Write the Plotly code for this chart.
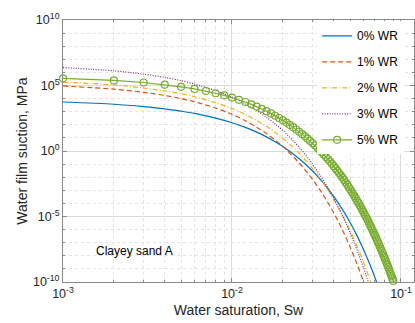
import plotly.graph_objects as go

# ---------------- data ----------------
# Water saturation grid used for the smooth curves
sw_line = [0.001, 0.002, 0.003, 0.004, 0.005, 0.006, 0.008, 0.010, 0.012, 0.014,
           0.016, 0.018, 0.020, 0.025, 0.030, 0.035, 0.040, 0.045, 0.050, 0.055,
           0.060, 0.065, 0.070, 0.075]

# log10 of water film suction (MPa)
log_wr0 = [3.74, 3.57, 3.39, 3.22, 3.04, 2.87, 2.51, 2.16, 1.80, 1.44,
           1.08, 0.71, 0.34, -0.59, -1.53, -2.49, -3.47, -4.46, -5.46, -6.48,
           -7.52, -8.57, -9.63, -10.72]
log_wr1 = [4.96, 4.72, 4.48, 4.24, 4.00, 3.76, 3.28, 2.80, 2.31, 1.82,
           1.33, 0.84, 0.34, -0.91, -2.17, -3.44, -4.72, -6.02, -7.33, -8.65,
           -9.98, -11.33, -12.69, -14.06]
log_wr2 = [5.26, 5.04, 4.81, 4.59, 4.37, 4.14, 3.69, 3.24, 2.79, 2.34,
           1.88, 1.43, 0.97, -0.18, -1.34, -2.51, -3.69, -4.87, -6.07, -7.27,
           -8.49, -9.71, -10.94, -12.18]
log_wr3 = [6.37, 6.12, 5.87, 5.62, 5.37, 5.11, 4.61, 4.11, 3.60, 3.09,
           2.58, 2.07, 1.56, 0.28, -1.02, -2.31, -3.62, -4.93, -6.26, -7.58,
           -8.92, -10.26, -11.62, -12.97]

# 5% WR series is drawn with a marker at every 0.001 of saturation
sw_markers = [0.001, 0.002, 0.003, 0.004, 0.005, 0.006, 0.007, 0.008, 0.009, 0.010,
              0.011, 0.012, 0.013, 0.014, 0.015, 0.016, 0.017, 0.018, 0.019, 0.020,
              0.021, 0.022, 0.023, 0.024, 0.025, 0.026, 0.027, 0.028, 0.029, 0.030,
              0.031, 0.032, 0.033, 0.034, 0.035, 0.036, 0.037, 0.038, 0.039, 0.040,
              0.041, 0.042, 0.043, 0.044, 0.045, 0.046, 0.047, 0.048, 0.049, 0.050,
              0.051, 0.052, 0.053, 0.054, 0.055, 0.056, 0.057, 0.058, 0.059, 0.060,
              0.061, 0.062, 0.063, 0.064, 0.065, 0.066, 0.067, 0.068, 0.069, 0.070,
              0.071, 0.072, 0.073, 0.074, 0.075, 0.076, 0.077, 0.078, 0.079, 0.080,
              0.081, 0.082, 0.083, 0.084, 0.085, 0.086, 0.087, 0.088, 0.089, 0.090]
log_wr5 = [5.55, 5.39, 5.23, 5.06, 4.90, 4.74, 4.58, 4.41, 4.25, 4.08,
           3.91, 3.74, 3.56, 3.39, 3.22, 3.04, 2.87, 2.69, 2.52, 2.34,
           2.17, 1.99, 1.82, 1.64, 1.47, 1.29, 1.12, 0.94, 0.77, 0.59,
           0.42, 0.24, 0.07, -0.11, -0.28, -0.46, -0.63, -0.81, -0.98, -1.16,
           -1.33, -1.51, -1.68, -1.86, -2.03, -2.21, -2.39, -2.56, -2.74, -2.92,
           -3.10, -3.27, -3.45, -3.62, -3.80, -3.97, -4.15, -4.32, -4.50, -4.67,
           -4.85, -5.02, -5.20, -5.37, -5.55, -5.72, -5.90, -6.07, -6.25, -6.42,
           -6.60, -6.77, -6.95, -7.12, -7.30, -7.47, -7.65, -7.82, -8.00, -8.17,
           -8.35, -8.52, -8.70, -8.87, -9.05, -9.22, -9.40, -9.57, -9.75, -9.92]

series_names = ["0% WR", "1% WR", "2% WR", "3% WR", "5% WR"]

x_tick_vals = [1e-3, 1e-2, 1e-1]
x_tick_text = ["10<sup>-3</sup>", "10<sup>-2</sup>", "10<sup>-1</sup>"]
y_tick_vals = [1e-10, 1e-5, 1e0, 1e5, 1e10]
y_tick_text = ["10<sup>-10</sup>", "10<sup>-5</sup>", "10<sup>0</sup>", "10<sup>5</sup>", "10<sup>10</sup>"]
x_minor_vals = [2e-3, 3e-3, 4e-3, 5e-3, 6e-3, 7e-3, 8e-3, 9e-3,
                2e-2, 3e-2, 4e-2, 5e-2, 6e-2, 7e-2, 8e-2, 9e-2]
y_minor_vals = [1e-9, 1e-8, 1e-7, 1e-6, 1e-4, 1e-3, 1e-2, 1e-1,
                1e1, 1e2, 1e3, 1e4, 1e6, 1e7, 1e8, 1e9]


def to_mpa(logs):
    return [10 ** v for v in logs]


FONT = "Liberation Sans, Arial, Helvetica, sans-serif"
TXT = "#262626"

fig = go.Figure()

line_specs = [
    (log_wr0, "#0072BD", "solid"),
    (log_wr1, "#D95319", "5px,3px"),
    (log_wr2, "#EDB120", "5px,2px,1px,2px"),
    (log_wr3, "#7E2F8E", "1px,1.5px"),
]
for i, (vals, col, dash) in enumerate(line_specs):
    fig.add_trace(go.Scatter(
        x=sw_line, y=to_mpa(vals), mode="lines", name=series_names[i],
        legendgroup=series_names[i],
        line=dict(color=col, width=1.2, dash=dash, shape="spline", smoothing=0.8),
    ))

fig.add_trace(go.Scatter(
    x=sw_markers, y=to_mpa(log_wr5), mode="lines+markers", name=series_names[4],
    legendgroup=series_names[4], cliponaxis=False,
    line=dict(color="#77AC30", width=1.2),
    marker=dict(symbol="circle-open", size=7, color="#77AC30", line=dict(width=1.2)),
))

axis_common = dict(
    type="log", showline=True, linecolor="#8a8a8a", linewidth=1, mirror="ticks",
    ticks="inside", ticklen=4, tickcolor="#8a8a8a", tickwidth=1,
    showgrid=True, gridcolor="#dcdcdc", gridwidth=1, zeroline=False,
    tickfont=dict(family=FONT, size=12.5, color=TXT),
)

fig.update_xaxes(
    **axis_common, range=[-3, -0.923],
    tickmode="array", tickvals=x_tick_vals, ticktext=x_tick_text,
    minor=dict(tickmode="array", tickvals=x_minor_vals, ticks="inside", ticklen=2,
               tickcolor="#8a8a8a", showgrid=True, gridcolor="#e3e3e3", griddash="dot"),
    title=dict(text="Water saturation, Sw", font=dict(family=FONT, size=14, color=TXT), standoff=5),
)
fig.update_yaxes(
    **axis_common, range=[-10, 10],
    tickmode="array", tickvals=y_tick_vals, ticktext=y_tick_text,
    minor=dict(tickmode="array", tickvals=y_minor_vals, ticks="inside", ticklen=2,
               tickcolor="#8a8a8a", showgrid=True, gridcolor="#e3e3e3", griddash="dot"),
    title=dict(text="Water film suction, MPa", font=dict(family=FONT, size=14, color=TXT), standoff=2),
)

fig.add_annotation(
    text="Clayey sand A", xref="paper", yref="paper", x=0.088, y=0.12,
    xanchor="left", yanchor="middle", showarrow=False,
    font=dict(family=FONT, size=12, color="#000000"),
)

fig.update_layout(
    width=415, height=323,
    margin=dict(l=63, r=1, t=20, b=41),
    paper_bgcolor="white", plot_bgcolor="white",
    showlegend=True,
    legend=dict(
        x=0.724, y=0.995, xanchor="left", yanchor="top",
        bgcolor="white", borderwidth=0, traceorder="grouped", tracegroupgap=7,
        font=dict(family=FONT, size=12, color="#000000"),
    ),
)

fig.write_html("out.html")
